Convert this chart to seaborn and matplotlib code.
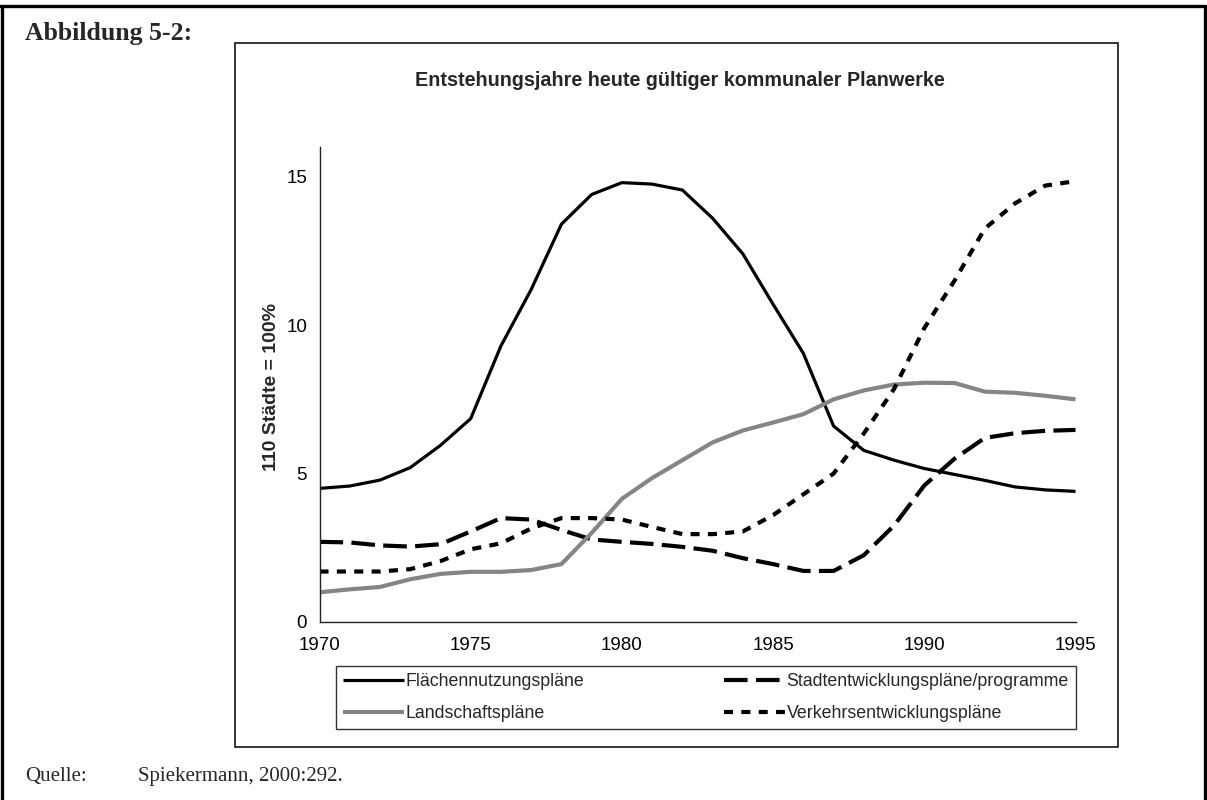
import matplotlib
matplotlib.use("Agg")
import matplotlib.pyplot as plt
from matplotlib.patches import Rectangle
from matplotlib.lines import Line2D
import seaborn as sns
import pandas as pd

# --- data: share of 110 cities (%) by year of origin of the current plan ---
years = list(range(1970, 1996))
flaechennutzung = [4.5, 4.58, 4.78, 5.2, 5.95, 6.85, 9.3, 11.2, 13.4, 14.4, 14.8, 14.75,
                   14.55, 13.6, 12.4, 10.7, 9.05, 6.6, 5.78, 5.45, 5.17, 4.97, 4.77,
                   4.55, 4.45, 4.4]
stadtentwicklung = [2.7, 2.68, 2.58, 2.54, 2.62, 3.05, 3.5, 3.45, 3.1, 2.78, 2.7, 2.63,
                    2.53, 2.4, 2.15, 1.95, 1.72, 1.72, 2.25, 3.25, 4.6, 5.5, 6.2,
                    6.36, 6.44, 6.47]
landschaft = [1.0, 1.1, 1.18, 1.44, 1.62, 1.69, 1.69, 1.75, 1.95, 3.0, 4.15, 4.85,
              5.45, 6.05, 6.45, 6.72, 7.0, 7.5, 7.8, 8.0, 8.06, 8.05, 7.76, 7.72,
              7.62, 7.5]
verkehr = [1.7, 1.7, 1.7, 1.78, 2.05, 2.45, 2.65, 3.15, 3.5, 3.5, 3.45, 3.2, 2.96,
           2.96, 3.05, 3.6, 4.3, 5.0, 6.35, 7.85, 9.9, 11.5, 13.25, 14.1, 14.7, 14.85]

series_names = ["Flächennutzungspläne", "Stadtentwicklungspläne/programme",
                "Landschaftspläne", "Verkehrsentwicklungspläne"]
series_values = [flaechennutzung, stadtentwicklung, landschaft, verkehr]

x_ticks = [1970, 1975, 1980, 1985, 1990, 1995]
y_ticks = [0, 5, 10, 15]

title = "Entstehungsjahre heute gültiger kommunaler Planwerke"
y_label = "110 Städte = 100%"
figure_label = "Abbildung 5-2:"
source_head = "Quelle:"
source_text = "Spiekermann, 2000:292."

# --- style ---
sns.set_theme(style="white")
plt.rcParams["font.family"] = ["Liberation Sans", "DejaVu Sans"]
plt.rcParams["lines.scale_dashes"] = False

W, H = 1207, 800
fig = plt.figure(figsize=(W / 100, H / 100), dpi=100)
fig.patch.set_facecolor("white")


def fx(px):
    return px / W


def fy(py):
    return 1 - py / H


# plot area in pixels
ax_l, ax_r, ax_t, ax_b = 319.5, 1075.5, 147, 622
ax = fig.add_axes([fx(ax_l), fy(ax_b), fx(ax_r - ax_l), (ax_b - ax_t) / H])
ax.set_facecolor("white")

styles = {
    "Flächennutzungspläne": dict(color="black", lw=2.3, dashes=None),
    "Stadtentwicklungspläne/programme": dict(color="black", lw=3.0, dashes=(17, 6)),
    "Landschaftspläne": dict(color="#858585", lw=3.0, dashes=None),
    "Verkehrsentwicklungspläne": dict(color="black", lw=3.0, dashes=(6.5, 6)),
}

df = pd.DataFrame({"Jahr": years})
for name, vals in zip(series_names, series_values):
    df[name] = vals
long = df.melt(id_vars="Jahr", var_name="Plan", value_name="Anteil")

handles = {}
for name in series_names:
    st = styles[name]
    sub = long[long["Plan"] == name]
    sns.lineplot(data=sub, x="Jahr", y="Anteil", ax=ax, color=st["color"],
                 linewidth=st["lw"], legend=False, solid_capstyle="butt",
                 dash_capstyle="butt")
    line = ax.get_lines()[-1]
    h = Line2D([], [], color=st["color"], lw=st["lw"], solid_capstyle="butt",
               dash_capstyle="butt")
    if st["dashes"] is not None:
        line.set_dashes(st["dashes"])
        h.set_dashes(st["dashes"])
    handles[name] = h

ax.set_xlim(1970, 1995)
ax.set_ylim(0, 16)
ax.set_xticks(x_ticks)
ax.set_yticks(y_ticks)
ax.set_xlabel("")
ax.set_ylabel(y_label, fontsize=14, fontweight="bold")
ax.yaxis.label.set_va("center")
ax.yaxis.set_label_coords((272 - ax_l) / (ax_r - ax_l), (ax_b - 387) / (ax_b - ax_t))

for side in ["top", "right"]:
    ax.spines[side].set_visible(False)
for side in ["left", "bottom"]:
    ax.spines[side].set_color("#222222")
    ax.spines[side].set_linewidth(1.0)
ax.tick_params(axis="both", direction="inout", length=8, width=0.9, color="#222222",
               labelsize=13.5, labelcolor="black")
ax.tick_params(axis="x", pad=7)
ax.tick_params(axis="y", pad=5)
ax.grid(False)

# chart title
fig.text(fx(680), fy(80), title, ha="center", va="center", fontsize=14.2,
         fontweight="bold")

# legend box below the axis (column-major order gives two rows)
leg_order = ["Flächennutzungspläne", "Landschaftspläne",
             "Stadtentwicklungspläne/programme", "Verkehrsentwicklungspläne"]
leg_l, leg_r, leg_t, leg_b = 336, 1076, 666, 730
leg = fig.legend([handles[n] for n in leg_order], leg_order, ncol=2, loc="upper left",
                 bbox_to_anchor=(fx(leg_l), fy(leg_b), fx(leg_r - leg_l), (leg_b - leg_t) / H),
                 mode="expand", fontsize=12.8, frameon=True, fancybox=False,
                 handlelength=3.4, handletextpad=0.1, borderpad=0.4,
                 labelspacing=0.85, borderaxespad=0.0)
leg.get_frame().set_edgecolor("black")
leg.get_frame().set_linewidth(1.0)

# chart area frame
fig.add_artist(Rectangle((fx(235), fy(747)), fx(1118 - 235), (747 - 43) / H,
                         transform=fig.transFigure, fill=False, edgecolor="black",
                         linewidth=1.1))

# page border
fig.add_artist(Line2D([fx(1.5), fx(1.5)], [fy(800), fy(6)], transform=fig.transFigure,
                      color="black", lw=2.4))
fig.add_artist(Line2D([fx(0), fx(1205)], [fy(6), fy(6)], transform=fig.transFigure,
                      color="black", lw=2.4))
fig.add_artist(Line2D([fx(1205), fx(1205)], [fy(800), fy(6)], transform=fig.transFigure,
                      color="black", lw=2.4))

serif = ["Liberation Serif", "DejaVu Serif"]
fig.text(fx(25), fy(33.5), figure_label, ha="left", va="center", fontsize=18.5,
         fontweight="bold", family=serif)
fig.text(fx(25), fy(777), source_head, ha="left", va="center", fontsize=15, family=serif)
fig.text(fx(138), fy(777), source_text, ha="left", va="center", fontsize=15, family=serif)

fig.savefig("out.png", dpi=100, facecolor="white")
